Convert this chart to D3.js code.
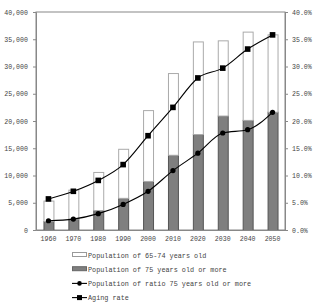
<!DOCTYPE html>
<meta charset="utf-8">
<script src="https://d3js.org/d3.v7.min.js"></script>
<style>
  body { margin: 0; background: #fff; }
  text { font-family: "Liberation Mono", "DejaVu Sans Mono", monospace; fill: #444; }
</style>
<div id="chart"></div>
<script>
    var margin = {top: 12, right: 37, bottom: 72, left: 36},
        width = 322 - margin.left - margin.right,
        height = 302 - margin.top - margin.bottom;

    // data
    const years = ["1960", "1970", "1980", "1990", "2000", "2010", "2020", "2030", "2040", "2050"];
    const pop75 = [1650, 2100, 3660, 5900, 9000, 13800, 17600, 21000, 20200, 21700];
    const pop6574 = [3750, 5300, 6990, 9000, 13000, 15000, 17000, 13800, 16200, 14200];
    const ratio75 = [1.7, 2.0, 3.0, 4.7, 7.1, 10.9, 14.1, 17.8, 18.4, 21.6];
    const agingRate = [5.7, 7.1, 9.1, 12.0, 17.3, 22.5, 27.9, 29.7, 33.2, 35.8];
    const leftTicks = [0, 5000, 10000, 15000, 20000, 25000, 30000, 35000, 40000];
    const rightTicks = [0, 5, 10, 15, 20, 25, 30, 35, 40];
    const legendLabels = [
        "Population of 65-74 years old",
        "Population of 75 years old or more",
        "Population of ratio 75 years old or more",
        "Aging rate"
    ];

    var svg = d3.select("#chart")
        .append("svg")
            .attr("width", width + margin.left + margin.right)
            .attr("height", height + margin.top + margin.bottom)
        .append("g")
            .attr("transform", "translate(" + margin.left + "," + margin.top + ")");

    var x = d3.scaleBand().domain(years).range([0, width]).paddingInner(0.6).paddingOuter(0.3);
    var y = d3.scaleLinear().domain([0, 40000]).range([height, 0]);
    var y2 = d3.scaleLinear().domain([0, 40]).range([height, 0]);

    // frame
    svg.append("rect")
        .attr("width", width).attr("height", height)
        .attr("fill", "none").attr("stroke", "#888");

    var rows = years.map((yr, i) => ({year: yr, p75: pop75[i], p6574: pop6574[i], ratio: ratio75[i], aging: agingRate[i]}));

    // bars: 75+ at bottom, 65-74 stacked on top
    svg.selectAll(".b75").data(rows).enter().append("rect")
        .attr("x", d => x(d.year) + 0.5)
        .attr("y", d => y(d.p75) + 0.5)
        .attr("width", x.bandwidth())
        .attr("height", d => y(0) - y(d.p75))
        .attr("fill", "#7f7f7f").attr("stroke", "#555");
    svg.selectAll(".b6574").data(rows).enter().append("rect")
        .attr("x", d => x(d.year) + 0.5)
        .attr("y", d => y(d.p75 + d.p6574) + 0.5)
        .attr("width", x.bandwidth())
        .attr("height", d => y(d.p75) - y(d.p75 + d.p6574))
        .attr("fill", "#fff").attr("stroke", "#aaa");

    // axes
    var fmtL = d3.format(",");
    var gl = svg.append("g")
        .call(d3.axisLeft(y).tickValues(leftTicks).tickFormat(fmtL).tickSize(3).tickPadding(5));
    var gr = svg.append("g").attr("transform", "translate(" + width + ",0)")
        .call(d3.axisRight(y2).tickValues(rightTicks).tickFormat(d => d.toFixed(1) + "%").tickSize(3).tickPadding(4));
    var gb = svg.append("g").attr("transform", "translate(0," + height + ")")
        .call(d3.axisBottom(x).tickSize(0).tickPadding(6));
    [gl, gr, gb].forEach(g => {
        g.selectAll("path, line").attr("stroke", "#888");
        g.selectAll("text").attr("font-size", 6.6).attr("fill", "#555")
            .style("font-family", "'Liberation Mono', monospace");
    });

    // lines
    var line = key => d3.line()
        .x(d => x(d.year) + x.bandwidth() / 2)
        .y(d => y2(d[key]))
        .curve(d3.curveMonotoneX);
    svg.append("path").datum(rows).attr("d", line("ratio"))
        .attr("fill", "none").attr("stroke", "#000").attr("stroke-width", 1.1);
    svg.append("path").datum(rows).attr("d", line("aging"))
        .attr("fill", "none").attr("stroke", "#000").attr("stroke-width", 1.1);
    svg.selectAll(".dot").data(rows).enter().append("circle")
        .attr("cx", d => x(d.year) + x.bandwidth() / 2)
        .attr("cy", d => y2(d.ratio))
        .attr("r", 2.6).attr("fill", "#000");
    svg.selectAll(".sq").data(rows).enter().append("rect")
        .attr("x", d => x(d.year) + x.bandwidth() / 2 - 2.8)
        .attr("y", d => y2(d.aging) - 2.8)
        .attr("width", 5.6).attr("height", 5.6).attr("fill", "#000");

    // legend
    var leg = svg.append("g").attr("transform", "translate(36," + (height + 25) + ")");
    legendLabels.forEach((lab, i) => {
        var g = leg.append("g").attr("transform", "translate(0," + (i * 14.2) + ")");
        if (i === 0) {
            g.append("rect").attr("x", 0.5).attr("y", -2.5).attr("width", 14).attr("height", 4)
                .attr("fill", "#fff").attr("stroke", "#999");
        } else if (i === 1) {
            g.append("rect").attr("x", 0.5).attr("y", -2.5).attr("width", 14).attr("height", 4)
                .attr("fill", "#7f7f7f").attr("stroke", "#666");
        } else {
            g.append("line").attr("x1", 0).attr("x2", 15).attr("y1", 0).attr("y2", 0)
                .attr("stroke", "#000").attr("stroke-width", 1.1);
            if (i === 2) g.append("circle").attr("cx", 7.5).attr("cy", 0).attr("r", 2.3).attr("fill", "#000");
            else g.append("rect").attr("x", 5).attr("y", -2.5).attr("width", 5).attr("height", 5).attr("fill", "#000");
        }
        g.append("text").attr("x", 16).attr("y", 2.6)
            .attr("font-size", 6.8).text(lab);
    });
</script>
